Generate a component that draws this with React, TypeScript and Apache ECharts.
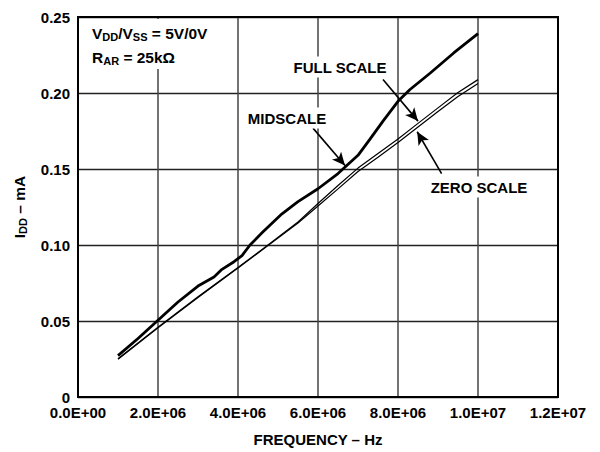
import React, { useEffect, useRef } from "react";
import * as echarts from "echarts";

// MIDSCALE (thick curve)
const midFreq = [1.0e6, 1.5e6, 2.0e6, 2.5e6, 3.0e6, 3.4e6, 3.6e6, 3.9e6, 4.1e6, 4.3e6, 4.6e6, 5.1e6, 5.5e6, 6.0e6, 6.5e6, 7.0e6, 7.3e6, 7.63e6, 8.0e6, 8.3e6, 8.8e6, 9.4e6, 1.0e7];
const midIdd = [0.0272, 0.0385, 0.0505, 0.0625, 0.073, 0.079, 0.084, 0.089, 0.093, 0.1, 0.108, 0.1205, 0.1285, 0.137, 0.147, 0.159, 0.1697, 0.1817, 0.1945, 0.2023, 0.213, 0.2265, 0.239];

// FULL SCALE and ZERO SCALE (thin curves)
const thinFreq = [1.0e6, 2.0e6, 3.0e6, 4.0e6, 4.7e6, 5.5e6, 6.0e6, 6.5e6, 7.0e6, 7.5e6, 8.0e6, 8.5e6, 9.0e6, 9.5e6, 1.0e7];
const fullIdd = [0.0252, 0.0459, 0.0659, 0.0852, 0.099, 0.1151, 0.1273, 0.1391, 0.1506, 0.1602, 0.1698, 0.18, 0.1902, 0.2003, 0.2088];
const zeroIdd = [0.0248, 0.0455, 0.0655, 0.0848, 0.0986, 0.1145, 0.1257, 0.1369, 0.1484, 0.1578, 0.1674, 0.1776, 0.1878, 0.1977, 0.2062];

// axis ranges
const xMin = 0;
const xMax = 1.2e7;
const xStep = 2e6;
const yMin = 0;
const yMax = 0.25;
const yStep = 0.05;

// arrow annotations (data coordinates: [from], [to])
const midArrow = [[5.875e6, 0.1769], [6.675e6, 0.1523]];
const fullArrow = [[7.625e6, 0.2089], [8.5e6, 0.1815]];
const zeroArrow = [[9.09e6, 0.1469], [8.48e6, 0.1745]];

const FONT = "'Liberation Sans', Arial, Helvetica, sans-serif";

function fmtSci(v: number): string {
  if (v === 0) return "0.0E+00";
  const e = Math.floor(Math.log10(Math.abs(v)) + 1e-9);
  const m = v / Math.pow(10, e);
  return `${m.toFixed(1)}E+${String(e).padStart(2, "0")}`;
}

function zip(xs: number[], ys: number[]) {
  return xs.map((x, i) => [x, ys[i]]);
}

function arrowLine(a: number[][]) {
  return [
    { coord: a[0], symbol: "none" },
    { coord: a[1], symbol: "arrow" },
  ];
}

export default function App() {
  const ref = useRef<HTMLDivElement>(null);

  useEffect(() => {
    document.body.style.margin = "0";
    if (!ref.current) return;
    const chart = echarts.init(ref.current, null, { renderer: "svg" });

    const sub = { fontSize: 11, fontWeight: "bold", fontFamily: FONT, color: "#000", lineHeight: 11, padding: [8, 0, 0, 0] };
    const main = { fontSize: 15.5, fontWeight: "bold", fontFamily: FONT, color: "#000", lineHeight: 18 };

    const labelStyle = (text: string) => ({
      text,
      fontSize: 15,
      fontWeight: "bold",
      fontFamily: FONT,
      fill: "#000",
      align: "center",
      verticalAlign: "middle",
      backgroundColor: "#fff",
      padding: [3, 3],
    });

    chart.setOption({
      animation: false,
      grid: {
        left: 78,
        right: 42,
        top: 17,
        bottom: 52,
        show: true,
        borderColor: "#000",
        borderWidth: 2,
        z: 3,
      },
      xAxis: {
        type: "value",
        min: xMin,
        max: xMax,
        interval: xStep,
        name: "FREQUENCY – Hz",
        nameLocation: "middle",
        nameGap: 35,
        nameTextStyle: { fontSize: 15, fontWeight: "bold", fontFamily: FONT, color: "#000" },
        axisLine: { show: false },
        axisTick: { show: false },
        axisLabel: {
          formatter: fmtSci,
          fontSize: 15,
          fontWeight: "bold",
          fontFamily: FONT,
          color: "#000",
          margin: 8,
        },
        splitLine: { show: true, lineStyle: { color: "#444", width: 1.5 } },
      },
      yAxis: {
        type: "value",
        min: yMin,
        max: yMax,
        interval: yStep,
        name: "{m|I}{s|DD}{m| – mA}",
        nameLocation: "middle",
        nameGap: 50,
        nameRotate: 90,
        nameTextStyle: {
          rich: { m: main, s: sub },
        },
        axisLine: { show: false },
        axisTick: { show: false },
        axisLabel: {
          formatter: (v: number) => (v === 0 ? "0" : v.toFixed(2)),
          fontSize: 15,
          fontWeight: "bold",
          fontFamily: FONT,
          color: "#000",
          margin: 8,
        },
        splitLine: { show: true, lineStyle: { color: "#222", width: 1.3 } },
      },
      series: [
        {
          name: "MIDSCALE",
          type: "line",
          data: zip(midFreq, midIdd),
          showSymbol: false,
          symbol: "none",
          lineStyle: { color: "#000", width: 2.8 },
          z: 5,
          silent: true,
          markLine: {
            silent: true,
            symbolSize: [9, 13],
            label: { show: false },
            lineStyle: { color: "#000", width: 1.6, type: "solid" },
            data: [arrowLine(midArrow), arrowLine(fullArrow), arrowLine(zeroArrow)],
          },
        },
        {
          name: "FULL SCALE",
          type: "line",
          data: zip(thinFreq, fullIdd),
          showSymbol: false,
          symbol: "none",
          lineStyle: { color: "#000", width: 1.2 },
          z: 4,
          silent: true,
        },
        {
          name: "ZERO SCALE",
          type: "line",
          data: zip(thinFreq, zeroIdd),
          showSymbol: false,
          symbol: "none",
          lineStyle: { color: "#000", width: 1.2 },
          z: 4,
          silent: true,
        },
      ],
      graphic: [
        {
          type: "rect",
          shape: { x: 82, y: 19, width: 136, height: 50 },
          style: { fill: "#fff" },
          z: 10,
          silent: true,
        },
        {
          type: "text",
          x: 92,
          y: 33,
          z: 11,
          silent: true,
          style: {
            text: "{m|V}{s|DD}{m|/V}{s|SS}{m| = 5V/0V}",
            verticalAlign: "middle",
            rich: { m: main, s: sub },
          },
        },
        {
          type: "text",
          x: 92,
          y: 57,
          z: 11,
          silent: true,
          style: {
            text: "{m|R}{s|AR}{m| = 25kΩ}",
            verticalAlign: "middle",
            rich: { m: main, s: sub },
          },
        },
        { type: "text", x: 340, y: 67, z: 11, silent: true, style: labelStyle("FULL SCALE") },
        { type: "text", x: 287, y: 118, z: 11, silent: true, style: labelStyle("MIDSCALE") },
        { type: "text", x: 479, y: 187, z: 11, silent: true, style: labelStyle("ZERO SCALE") },
      ],
    });

    return () => chart.dispose();
  }, []);

  return <div ref={ref} style={{ width: 600, height: 452 }} />;
}
